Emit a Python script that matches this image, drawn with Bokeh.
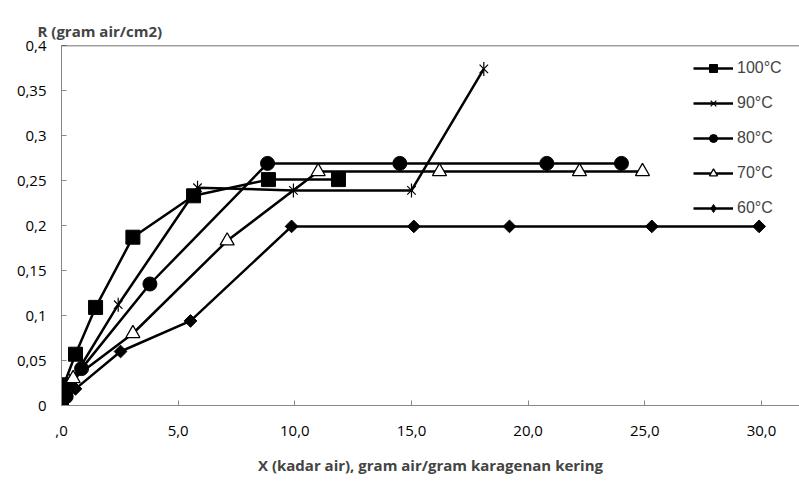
from bokeh.plotting import figure
from bokeh.embed import file_html
from bokeh.resources import INLINE
from bokeh.models import Span, Legend, FixedTicker

# Data
x100 = [0.0, 0.0, 0.1, 0.6, 1.46, 3.06, 5.66, 8.87, 11.87]
y100 = [0.0, 0.009, 0.023, 0.057, 0.109, 0.187, 0.233, 0.251, 0.251]

x90 = [0.0, 0.5, 2.43, 5.83, 9.94, 15.0, 18.1]
y90 = [0.0, 0.03, 0.112, 0.242, 0.239, 0.239, 0.374]

x80 = [0.0, 0.2, 0.86, 3.79, 8.83, 14.5, 20.8, 24.0]
y80 = [0.0, 0.01, 0.041, 0.135, 0.269, 0.269, 0.269, 0.269]

x70 = [0.0, 0.5, 3.06, 7.1, 11.0, 16.2, 22.2, 24.9]
y70 = [0.0, 0.03, 0.08, 0.183, 0.26, 0.26, 0.26, 0.26]

x60 = [0.0, 0.6, 2.53, 5.53, 9.86, 15.1, 19.2, 25.3, 29.9]
y60 = [0.0, 0.0185, 0.06, 0.094, 0.199, 0.199, 0.199, 0.199, 0.199]

x_ticks = [0, 5, 10, 15, 20, 25, 30]
x_tick_labels = [",0", "5,0", "10,0", "15,0", "20,0", "25,0", "30,0"]
y_ticks = [0, 0.05, 0.1, 0.15, 0.2, 0.25, 0.3, 0.35, 0.4]
y_tick_labels = ["0", "0,05", "0,1", "0,15", "0,2", "0,25", "0,3", "0,35", "0,4"]

series_labels = ["100\u00b0C", "90\u00b0C", "80\u00b0C", "70\u00b0C", "60\u00b0C"]
y_title = "R (gram air/cm2)"
x_title = "X (kadar air), gram air/gram karagenan kering"

p = figure(width=799, height=488, x_range=(0, 31.63), y_range=(0, 0.4),
           output_backend="svg", toolbar_location=None,
           min_border_left=61, min_border_right=0, min_border_top=45, min_border_bottom=83)

p.title.text = y_title
p.title.text_font = "Open Sans"
p.title.text_font_style = "bold"
p.title.text_font_size = "15px"
p.title.align = "left"
p.title.vertical_align = "top"
p.title.offset = -24
p.title.standoff = 6

p.xgrid.visible = False
p.ygrid.visible = False
p.outline_line_color = None

p.add_layout(Span(location=0.4, dimension="width", line_color="#404040", line_width=1.5))

lw = 2.5
r1 = p.line(x100, y100, line_color="black", line_width=lw)
s1 = p.scatter(x100, y100, marker="square", size=14, fill_color="black", line_color="black")
r2 = p.line(x90, y90, line_color="black", line_width=lw)
s2a = p.scatter(x90, y90, marker="x", size=12, line_color="black", line_width=1.2)
s2b = p.scatter(x90, y90, marker="dash", angle=1.5708, size=14, line_color="black", line_width=1.2)
r3 = p.line(x80, y80, line_color="black", line_width=lw)
s3 = p.scatter(x80, y80, marker="circle", size=14, fill_color="black", line_color="black")
r4 = p.line(x70, y70, line_color="black", line_width=lw)
s4 = p.scatter(x70, y70, marker="triangle", size=14, fill_color="white", line_color="black", line_width=1.3)
r5 = p.line(x60, y60, line_color="black", line_width=lw)
s5 = p.scatter(x60, y60, marker="square", angle=0.7854, size=9, fill_color="black", line_color="black")
# legend marker for the 60 C series (drawn on its first data point, hidden under the origin cluster)
s5_leg = p.scatter(x60[:1], y60[:1], marker="diamond", size=13, fill_color="black", line_color="black")

legend = Legend(items=[
    (series_labels[0], [r1, s1]),
    (series_labels[1], [r2, s2a, s2b]),
    (series_labels[2], [r3, s3]),
    (series_labels[3], [r4, s4]),
    (series_labels[4], [r5, s5_leg]),
], location=(632, 187))
legend.margin = 0
legend.padding = 0
legend.spacing = 15
legend.glyph_width = 40
legend.glyph_height = 20
legend.label_height = 20
legend.label_standoff = 4
legend.label_text_font = "Liberation Sans"
legend.label_text_font_size = "16px"
legend.border_line_color = None
legend.background_fill_alpha = 0
p.add_layout(legend)

# Axes
p.xaxis.ticker = FixedTicker(ticks=x_ticks)
p.xaxis.major_label_overrides = {t: l for t, l in zip(x_ticks, x_tick_labels)}
p.yaxis.ticker = FixedTicker(ticks=y_ticks)
p.yaxis.major_label_overrides = {t: l for t, l in zip(y_ticks, y_tick_labels)}

for ax in (p.xaxis, p.yaxis):
    ax.axis_line_color = "#888888"
    ax.major_tick_line_color = "#888888"
    ax.major_tick_in = 5
    ax.major_tick_out = 0
    ax.minor_tick_line_color = None
    ax.major_label_text_font = "Open Sans"
    ax.major_label_text_font_size = "15px"
    ax.major_label_text_color = "black"

p.xaxis.major_label_standoff = 20
p.yaxis.major_label_standoff = 15

p.xaxis.axis_label = x_title
p.xaxis.axis_label_text_font = "Open Sans"
p.xaxis.axis_label_text_font_style = "bold"
p.xaxis.axis_label_text_font_size = "15px"
p.xaxis.axis_label_standoff = 16

open("out.html", "w").write(file_html(p, INLINE))
